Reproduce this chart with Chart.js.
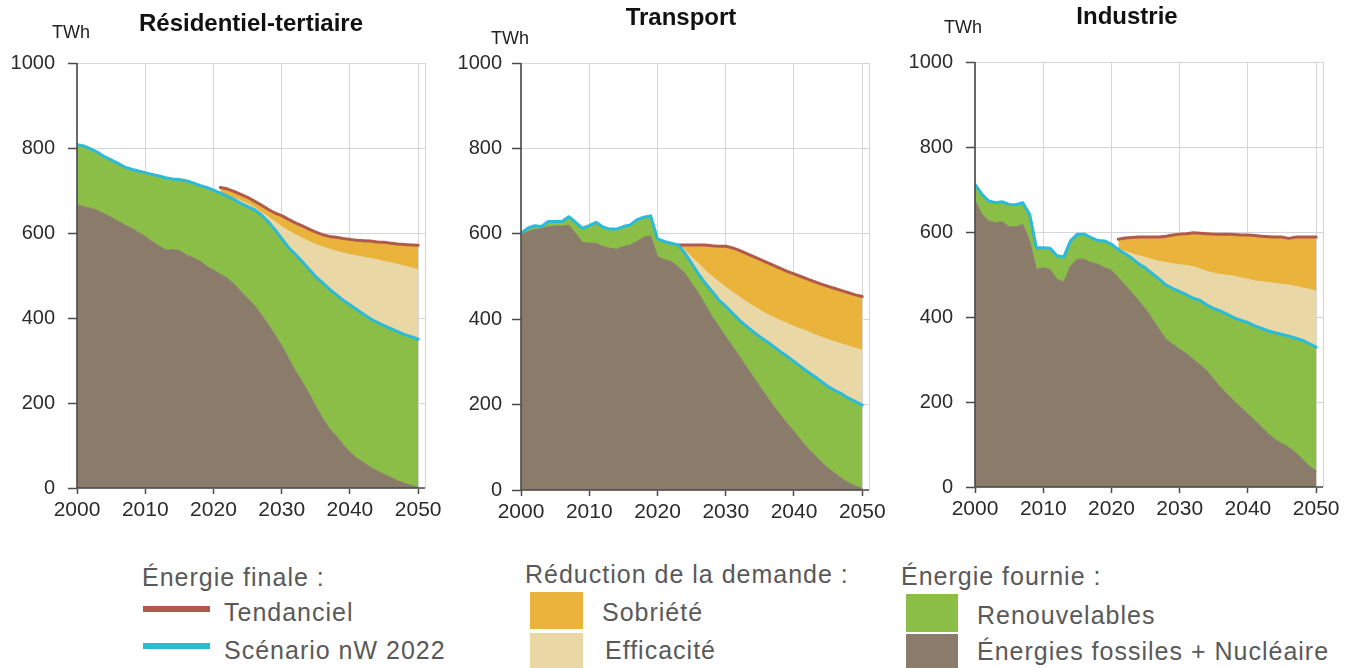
<!DOCTYPE html>
<html lang="fr">
<head>
<meta charset="utf-8">
<title>Énergie finale par secteur</title>
<script src="https://cdn.jsdelivr.net/npm/chart.js@4.4.1/dist/chart.umd.min.js"></script>
<style>
  html, body { margin: 0; padding: 0; background: #fff; width: 1346px; height: 668px; overflow: hidden;
               font-family: "Liberation Sans", Arial, Helvetica, sans-serif; }
  .panel { position: absolute; top: 0; height: 540px; }
  .lg { position: absolute; font-size: 25px; line-height: 25px; letter-spacing: 1px; color: #595959; white-space: nowrap; }
  .sw { position: absolute; }
</style>
</head>
<body>
<div class="panel" style="left:0;width:450px"><canvas id="chartRes"></canvas></div>
<div class="panel" style="left:440px;width:450px"><canvas id="chartTra"></canvas></div>
<div class="panel" style="left:890px;width:456px"><canvas id="chartInd"></canvas></div>

<!-- Légende -->
<div class="lg" style="left:142px;top:565px">Énergie finale :</div>
<div class="sw" style="left:143px;top:606px;width:67px;height:6px;background:#b15a4b"></div>
<div class="lg" style="left:224px;top:600px">Tendanciel</div>
<div class="sw" style="left:143px;top:643px;width:67px;height:6px;background:#2bbad8"></div>
<div class="lg" style="left:224px;top:638px">Scénario nW 2022</div>

<div class="lg" style="left:525px;top:562px">Réduction de la demande :</div>
<div class="sw" style="left:530px;top:592px;width:53px;height:37px;background:#e9b33c"></div>
<div class="lg" style="left:602px;top:600px">Sobriété</div>
<div class="sw" style="left:530px;top:633px;width:53px;height:35px;background:#e9d8a6"></div>
<div class="lg" style="left:605px;top:638px">Efficacité</div>

<div class="lg" style="left:901px;top:564px">Énergie fournie :</div>
<div class="sw" style="left:906px;top:594px;width:52px;height:38px;background:#8bbe46"></div>
<div class="lg" style="left:977px;top:603px">Renouvelables</div>
<div class="sw" style="left:906px;top:634px;width:52px;height:34px;background:#8a7b6a"></div>
<div class="lg" style="left:977px;top:639px">Énergies fossiles + Nucléaire</div>

<script>
// ---- Années et graduations ----
const years = [2000, 2001, 2002, 2003, 2004, 2005, 2006, 2007, 2008, 2009,
               2010, 2011, 2012, 2013, 2014, 2015, 2016, 2017, 2018, 2019,
               2020, 2021, 2022, 2023, 2024, 2025, 2026, 2027, 2028, 2029,
               2030, 2031, 2032, 2033, 2034, 2035, 2036, 2037, 2038, 2039,
               2040, 2041, 2042, 2043, 2044, 2045, 2046, 2047, 2048, 2049, 2050];
const yearsFrom2021 = years.slice(21);
const yearsFrom2023 = years.slice(23);
const xTicks = [2000, 2010, 2020, 2030, 2040, 2050];
const yTicks = [0, 200, 400, 600, 800, 1000];

// ---- Résidentiel-tertiaire (TWh) ----
const resFossiles = [666, 662, 658, 653, 645, 637, 628, 619, 611, 601,
                     592, 580, 570, 560, 561, 559, 549, 542, 534, 522,
                     513, 503, 494, 480, 463, 446, 430, 408, 385, 360,
                     335, 305, 276, 250, 222, 192, 164, 140, 122, 102,
                     84, 70, 60, 49, 40, 32, 25, 17, 11, 6, 2];
const resScenario = [808, 805, 798, 790, 780, 772, 764, 755, 750, 746,
                     742, 738, 734, 730, 727, 726, 723, 718, 712, 707,
                     701, 694, 687, 679, 670, 662, 655, 643, 627, 608,
                     587, 566, 550, 533, 515, 497, 483, 468, 455, 442,
                     431, 420, 409, 398, 390, 382, 375, 368, 361, 356, 350];
// bord supérieur de la bande « Efficacité » (à partir de 2021)
const resEfficacite = [694, 689, 683, 676, 669, 660, 649, 638, 627, 615,
                       605, 596, 588, 580, 573, 567, 562, 557, 553, 549,
                       546, 543, 540, 537, 533, 530, 526, 522, 518, 513];
const resTendanciel = [707, 704, 698, 691, 684, 675, 666, 656, 647, 641,
                       632, 624, 617, 609, 602, 596, 592, 590, 587, 585,
                       583, 582, 581, 579, 578, 576, 574, 573, 572, 571];

// ---- Transport (TWh) ----
const traFossiles = [598, 605, 610, 612, 617, 618, 618, 620, 601, 580,
                     578, 578, 570, 566, 564, 570, 574, 582, 592, 595,
                     547, 539, 535, 523, 508, 484, 461, 434, 406, 383,
                     359, 336, 313, 289, 266, 242, 219, 197, 176, 156,
                     137, 117, 98, 82, 66, 51, 39, 27, 17, 9, 4];
const traScenario = [602, 613, 619, 617, 629, 629, 629, 640, 627, 613,
                     619, 627, 616, 611, 611, 617, 621, 633, 639, 642,
                     588, 582, 578, 574, 555, 531, 506, 484, 465, 445,
                     430, 414, 398, 384, 371, 359, 348, 336, 324, 313,
                     301, 289, 277, 266, 254, 242, 233, 225, 215, 207, 199];
// à partir de 2023
const traEfficacite = [574, 562, 545, 530, 514, 500, 487, 475, 463, 452,
                       441, 431, 421, 412, 404, 397, 390, 383, 377, 371,
                       364, 358, 352, 347, 342, 337, 332, 327];
const traTendanciel = [574, 574, 574, 574, 574, 572, 571, 571, 567, 561,
                       554, 547, 540, 533, 526, 519, 512, 506, 500, 494,
                       488, 482, 477, 472, 467, 462, 457, 453];

// ---- Industrie (TWh) ----
const indFossiles = [675, 642, 626, 622, 624, 612, 612, 618, 579, 512,
                     516, 512, 489, 482, 520, 536, 536, 528, 524, 516,
                     510, 493, 475, 457, 438, 418, 395, 371, 347, 336,
                     324, 314, 300, 287, 273, 253, 234, 218, 202, 187,
                     171, 157, 141, 125, 112, 102, 93, 81, 65, 49, 38];
const indScenario = [712, 689, 673, 669, 671, 665, 664, 669, 642, 563,
                     563, 562, 544, 541, 579, 595, 595, 587, 580, 579,
                     571, 559, 549, 538, 525, 515, 502, 489, 475, 467,
                     460, 452, 444, 439, 428, 420, 414, 406, 398, 392,
                     387, 379, 373, 367, 363, 359, 355, 350, 345, 337, 329];
// à partir de 2021
const indEfficacite = [559, 555, 549, 544, 540, 535, 531, 528, 525, 523,
                       521, 518, 513, 507, 503, 500, 498, 496, 492, 489,
                       485, 483, 481, 479, 477, 475, 472, 468, 465, 461];
const indTendanciel = [583, 586, 587, 588, 588, 588, 588, 590, 593, 595,
                       596, 598, 597, 596, 595, 595, 595, 594, 593, 593,
                       592, 590, 589, 588, 588, 585, 588, 588, 588, 588];

// ---- Couleurs ----
const BROWN = '#8a7b6a', GREEN = '#8bbe46', BEIGE = '#e9d8a6', ORANGE = '#e9b33c';
const RED = '#b15a4b', CYAN = '#2bbad8';
const GRID = '#d6d6d6', AXIS = '#4a4a4a', TICK_TEXT = '#2b2b2b';
const FONT = '"Liberation Sans", Arial, Helvetica, sans-serif';

function points(xs, ys) { return ys.map((y, i) => ({ x: xs[i], y: y })); }

// Titre, unité, cadre droit et axes dessinés par-dessus les aires
const panelDecor = {
  id: 'panelDecor',
  beforeDatasetsDraw(chart) {
    const { ctx, chartArea: a } = chart;
    ctx.save();
    ctx.strokeStyle = GRID;
    ctx.lineWidth = 1;
    ctx.beginPath();
    ctx.moveTo(Math.round(a.right) + 0.5, a.top);
    ctx.lineTo(Math.round(a.right) + 0.5, a.bottom);
    ctx.stroke();
    ctx.restore();
  },
  afterDatasetsDraw(chart) {
    const { ctx, chartArea: a } = chart;
    ctx.save();
    ctx.strokeStyle = AXIS;
    ctx.lineWidth = 1.6;
    ctx.beginPath();
    ctx.moveTo(a.left, a.top);
    ctx.lineTo(a.left, a.bottom);
    ctx.lineTo(a.right, a.bottom);
    ctx.stroke();
    ctx.restore();
  },
  afterDraw(chart, args, opts) {
    const ctx = chart.ctx;
    ctx.save();
    ctx.textAlign = 'center';
    ctx.textBaseline = 'middle';
    ctx.fillStyle = '#111';
    ctx.font = 'bold 24px ' + FONT;
    ctx.fillText(opts.title, opts.titleX, opts.titleY);
    ctx.fillStyle = '#222';
    ctx.font = '18px ' + FONT;
    ctx.fillText('TWh', opts.unitX, opts.unitY);
    ctx.restore();
  }
};

function makePanel(id, s, box) {
  const datasets = [
    { label: 'Énergies fossiles + Nucléaire', data: points(years, s.fossiles),
      fill: 'origin', backgroundColor: BROWN, borderColor: BROWN, borderWidth: 1 },
    { label: 'Scénario nW 2022', data: points(years, s.scenario),
      fill: '-1', backgroundColor: GREEN, borderColor: CYAN, borderWidth: 3 },
    { label: 'Efficacité', data: points(s.demandYears, s.efficacite),
      fill: '-1', backgroundColor: BEIGE, borderColor: BEIGE, borderWidth: 1 },
    { label: 'Tendanciel', data: points(s.demandYears, s.tendanciel),
      fill: '-1', backgroundColor: ORANGE, borderColor: RED, borderWidth: 3 }
  ];
  return new Chart(document.getElementById(id), {
    type: 'line',
    data: { datasets },
    plugins: [panelDecor],
    options: {
      responsive: true,
      maintainAspectRatio: false,
      animation: false,
      layout: { padding: { left: 0, top: box.top, right: box.right, bottom: 0 } },
      elements: {
        point: { radius: 0, hoverRadius: 0 },
        line: { tension: 0, borderJoinStyle: 'round', borderCapStyle: 'round' }
      },
      plugins: {
        legend: { display: false },
        tooltip: { enabled: false },
        panelDecor: { title: s.title, titleX: box.titleX, titleY: box.titleY, unitX: box.unitX, unitY: box.unitY }
      },
      scales: {
        x: {
          type: 'linear', min: 2000, max: 2051,
          afterBuildTicks: sc => { sc.ticks = xTicks.map(v => ({ value: v })); },
          afterFit: sc => { sc.height = box.xAxisHeight; },
          grid: { color: GRID, lineWidth: 1, drawTicks: true, tickLength: 6, tickColor: AXIS, tickWidth: 1.5 },
          border: { display: false },
          ticks: { autoSkip: false, maxRotation: 0, padding: 4, color: TICK_TEXT,
                   font: { family: FONT, size: 21 }, callback: v => String(v) }
        },
        y: {
          min: 0, max: 1000,
          afterBuildTicks: sc => { sc.ticks = yTicks.map(v => ({ value: v })); },
          afterFit: sc => { sc.width = box.yAxisWidth; },
          grid: { color: GRID, lineWidth: 1, drawTicks: true, tickLength: 9, tickColor: AXIS, tickWidth: 1.5 },
          border: { display: false },
          ticks: { padding: box.yPad, color: TICK_TEXT,
                   font: { family: FONT, size: 20 }, callback: v => String(v) }
        }
      }
    }
  });
}

makePanel('chartRes',
  { title: 'Résidentiel-tertiaire', fossiles: resFossiles, scenario: resScenario,
    demandYears: yearsFrom2021, efficacite: resEfficacite, tendanciel: resTendanciel },
  { top: 63, right: 25, yAxisWidth: 77, xAxisHeight: 52, yPad: 13,
    titleX: 251, titleY: 24, unitX: 71, unitY: 33 });

makePanel('chartTra',
  { title: 'Transport', fossiles: traFossiles, scenario: traScenario,
    demandYears: yearsFrom2023, efficacite: traEfficacite, tendanciel: traTendanciel },
  { top: 63, right: 20, yAxisWidth: 81, xAxisHeight: 50, yPad: 10,
    titleX: 241, titleY: 18, unitX: 70, unitY: 39 });

makePanel('chartInd',
  { title: 'Industrie', fossiles: indFossiles, scenario: indScenario,
    demandYears: yearsFrom2021, efficacite: indEfficacite, tendanciel: indTendanciel },
  { top: 62, right: 23, yAxisWidth: 85, xAxisHeight: 53, yPad: 13,
    titleX: 237, titleY: 17, unitX: 73, unitY: 28 });
</script>
</body>
</html>
